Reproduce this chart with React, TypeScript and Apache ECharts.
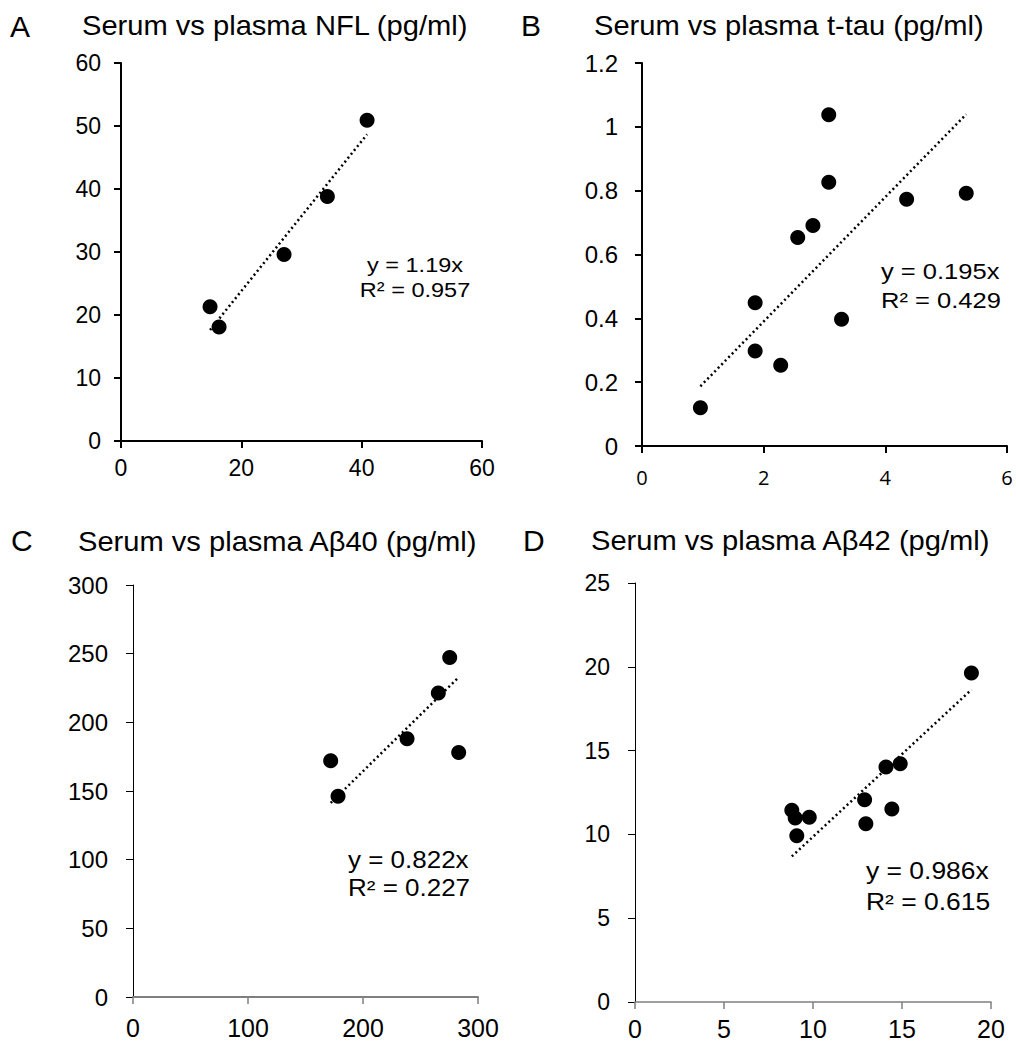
import React, { useEffect, useRef } from "react";
import * as echarts from "echarts";

// Panel A: NFL
const A_SERUM = [14.8, 16.3, 27.1, 34.3, 40.9];
const A_PLASMA = [21.3, 18.1, 29.6, 38.8, 50.9];
const A_SLOPE = 1.19;
const A_R2 = 0.957;
// Panel B: t-tau
const B_SERUM = [0.96, 1.86, 1.86, 2.28, 2.56, 2.81, 3.07, 3.07, 3.28, 4.35, 5.33];
const B_PLASMA = [0.12, 0.449, 0.298, 0.253, 0.653, 0.691, 0.826, 1.038, 0.397, 0.773, 0.792];
const B_SLOPE = 0.195;
const B_R2 = 0.429;
// Panel C: Abeta40
const C_SERUM = [171.9, 178.3, 238.3, 265.5, 275.4, 283.2];
const C_PLASMA = [172, 146.1, 188, 221.3, 247.2, 178.1];
const C_SLOPE = 0.822;
const C_R2 = 0.227;
// Panel D: Abeta42
const D_SERUM = [8.81, 9.0, 9.09, 9.79, 12.9, 12.97, 14.1, 14.43, 14.9, 18.9];
const D_PLASMA = [11.44, 10.98, 9.92, 11.02, 12.07, 10.64, 14.02, 11.52, 14.22, 19.63];
const D_SLOPE = 0.986;
const D_R2 = 0.615;

const LETTERS = ["A", "B", "C", "D"];
const TITLES = [
  "Serum vs plasma NFL (pg/ml)",
  "Serum vs plasma t-tau (pg/ml)",
  "Serum vs plasma A\u03b240 (pg/ml)",
  "Serum vs plasma A\u03b242 (pg/ml)",
];
const X_RANGES = [
  [0, 60, 20],
  [0, 6, 2],
  [0, 300, 100],
  [0, 20, 5],
];
const Y_RANGES = [
  [0, 60, 10],
  [0, 1.2, 0.2],
  [0, 300, 50],
  [0, 25, 5],
];

const ARIAL = '"Liberation Sans", Arial, Helvetica, sans-serif';

export default function App() {
  const ref = useRef<HTMLDivElement>(null);

  useEffect(() => {
    if (!ref.current) return;
    const chart = echarts.init(ref.current, undefined, { renderer: "svg" });

    const panels = [
      { xs: A_SERUM, ys: A_PLASMA, slope: A_SLOPE, r2: A_R2 },
      { xs: B_SERUM, ys: B_PLASMA, slope: B_SLOPE, r2: B_R2 },
      { xs: C_SERUM, ys: C_PLASMA, slope: C_SLOPE, r2: C_R2 },
      { xs: D_SERUM, ys: D_PLASMA, slope: D_SLOPE, r2: D_R2 },
    ];

    const grids = [
      { left: 121, top: 63, width: 361, height: 378 },
      { left: 642, top: 63, width: 365, height: 383 },
      { left: 133, top: 585, width: 345, height: 412 },
      { left: 635, top: 583, width: 356, height: 419 },
    ];

    const xStyle = [
      { color: "#000", width: 2, tickW: 2, font: ARIAL, size: 23, margin: 15 },
      { color: "#000", width: 2, tickW: 2, font: '"Open Sans", sans-serif', size: 20, margin: 21 },
      { color: "#7f7f7f", width: 2, tickW: 1.5, font: ARIAL, size: 25, margin: 18 },
      { color: "#7f7f7f", width: 1.5, tickW: 1.5, font: ARIAL, size: 25, margin: 14 },
    ];
    const yStyle = [
      { color: "#000", width: 2, font: ARIAL, size: 23, margin: 20 },
      { color: "#000", width: 2, font: ARIAL, size: 24, margin: 24 },
      { color: "#000", width: 1, font: ARIAL, size: 24, margin: 25 },
      { color: "#000", width: 1, font: ARIAL, size: 23, margin: 25 },
    ];

    const xAxis = X_RANGES.map((r, i) => ({
      type: "value",
      gridIndex: i,
      min: r[0],
      max: r[1],
      interval: r[2],
      splitLine: { show: false },
      axisLine: { show: true, onZero: false, lineStyle: { color: xStyle[i].color, width: xStyle[i].width } },
      axisTick: { show: true, length: 7, lineStyle: { color: xStyle[i].color, width: xStyle[i].tickW } },
      axisLabel: {
        color: "#000",
        fontFamily: xStyle[i].font,
        fontSize: xStyle[i].size,
        margin: xStyle[i].margin,
      },
    }));
    const yAxis = Y_RANGES.map((r, i) => ({
      type: "value",
      gridIndex: i,
      min: r[0],
      max: r[1],
      interval: r[2],
      splitLine: { show: false },
      axisLine: { show: true, onZero: false, lineStyle: { color: yStyle[i].color, width: yStyle[i].width } },
      axisTick: { show: true, length: 7, lineStyle: { color: yStyle[i].color, width: yStyle[i].width } },
      axisLabel: {
        color: "#000",
        fontFamily: yStyle[i].font,
        fontSize: yStyle[i].size,
        margin: yStyle[i].margin,
      },
    }));

    const series: any[] = [];
    panels.forEach((p, i) => {
      const xmin = Math.min(...p.xs);
      const xmax = Math.max(...p.xs);
      series.push({
        type: "line",
        xAxisIndex: i,
        yAxisIndex: i,
        showSymbol: false,
        symbol: "none",
        data: [
          [xmin, p.slope * xmin],
          [xmax, p.slope * xmax],
        ],
        lineStyle: { color: "#000", width: 2.5, type: [2, 3], opacity: 1 },
        z: 1,
      });
      series.push({
        type: "scatter",
        xAxisIndex: i,
        yAxisIndex: i,
        symbol: "circle",
        symbolSize: 15,
        data: p.xs.map((x, k) => [x, p.ys[k]]),
        itemStyle: { color: "#000", opacity: 1 },
        z: 2,
      });
    });

    const txt = (
      text: string,
      x: number,
      y: number,
      size: number,
      align: string,
      scaleX = 1
    ) => ({
      type: "text",
      x,
      y,
      scaleX,
      style: {
        text,
        fill: "#000",
        fontSize: size,
        fontFamily: ARIAL,
        textAlign: align,
        align,
        textVerticalAlign: "middle",
        verticalAlign: "middle",
      },
    });

    const eqText = (s: number) => `y = ${s}x`;
    const r2Text = (r: number) => `R\u00b2 = ${r}`;

    const graphic = [
      txt(LETTERS[0], 10, 26, 30, "left"),
      txt(LETTERS[1], 521, 25, 30, "left"),
      txt(LETTERS[2], 11, 540, 30, "left"),
      txt(LETTERS[3], 523, 540, 30, "left"),
      txt(TITLES[0], 82, 25, 28, "left", 1.04),
      txt(TITLES[1], 594, 25, 28, "left", 1.04),
      txt(TITLES[2], 78, 541, 28, "left", 1.04),
      txt(TITLES[3], 591, 540, 28, "left", 1.04),
      txt(eqText(A_SLOPE), 415, 265, 21, "center", 1.12),
      txt(r2Text(A_R2), 415, 290, 21, "center", 1.12),
      txt(eqText(B_SLOPE), 881, 271, 22, "left", 1.16),
      txt(r2Text(B_R2), 881, 300, 22, "left", 1.16),
      txt(eqText(C_SLOPE), 348, 860, 23, "left", 1.13),
      txt(r2Text(C_R2), 348, 888, 23, "left", 1.13),
      txt(eqText(D_SLOPE), 866, 871, 23, "left", 1.15),
      txt(r2Text(D_R2), 866, 902, 23, "left", 1.15),
    ];

    chart.setOption({
      animation: false,
      backgroundColor: "#fff",
      grid: grids,
      xAxis,
      yAxis,
      series,
      graphic,
    });

    return () => chart.dispose();
  }, []);

  return (
    <div
      ref={ref}
      style={{ position: "absolute", left: 0, top: 0, width: 1016, height: 1046, background: "#fff" }}
    />
  );
}
